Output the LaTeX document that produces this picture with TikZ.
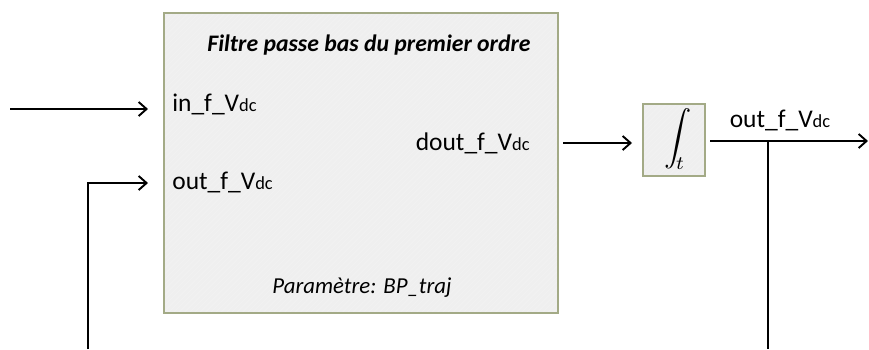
\documentclass[tikz,border=0pt]{standalone}
\usepackage{fontspec}
\setmainfont{Carlito}
\usetikzlibrary{arrows.meta,patterns,shadows}
\definecolor{boxborder}{HTML}{A3AA86}
\definecolor{boxfill}{HTML}{EFEFEF}
\newcommand{\Vdc}{V{\fontsize{10.5pt}{11pt}\selectfont dc}}
\begin{document}
\begin{tikzpicture}[x=0.02cm,y=-0.02cm,
  blockbox/.style={draw=boxborder,line width=1.4pt,
     preaction={fill=boxfill,drop shadow={shadow xshift=0.6pt,shadow yshift=-0.8pt,opacity=0.25}},
     pattern=north east lines,pattern color=black!5},
  lbl/.style={font=\fontsize{14.5pt}{16pt}\selectfont,inner sep=0pt},
  sig/.style={line width=1.1pt,-{Straight Barb[length=4.5pt,width=8pt,line width=1.1pt]}},
  wire/.style={line width=1.1pt}]
\useasboundingbox (0,0) rectangle (869,349);
% main block
\node[blockbox,minimum width=394*0.02cm,minimum height=300*0.02cm,inner sep=0pt] (filt) at (361,163) {};
\node[inner sep=0pt,font=\fontsize{13.5pt}{15pt}\selectfont\bfseries\itshape] (title) at (369,45) {Filtre passe bas du premier ordre};
\node[lbl,anchor=west] (inp) at (172,104) {in\_f\_\Vdc};
\node[lbl,anchor=west] (outp) at (172,182) {out\_f\_\Vdc};
\node[lbl,anchor=east] (doutp) at (530,143) {dout\_f\_\Vdc};
\node[inner sep=0pt,font=\fontsize{13pt}{15pt}\selectfont\itshape] (param) at (362,288) {Paramètre: BP\_traj};
% integrator
\node[blockbox,minimum width=62*0.02cm,minimum height=72*0.02cm,inner sep=0pt] (integ) at (674,140) {};
\node[inner sep=0pt] (intsym) at (675,139) {\scalebox{1.55}{$\displaystyle\int_{\!t}$}};
% coordinates
\coordinate (in0) at (10,109);
\coordinate (inE) at (148,109);
\coordinate (fb0) at (88,349);
\coordinate (fbC) at (88,183);
\coordinate (fbE) at (148,183);
\coordinate (dS) at (563,143);
\coordinate (dE) at (632,143);
\coordinate (oS) at (710,141);
\coordinate (oE) at (868,141);
\coordinate (br) at (768,141);
\coordinate (brE) at (768,349);
% connectors
\draw[sig] (in0) -- (inE);
\draw[sig] (fb0) -- (fbC) -- (fbE);
\draw[sig] (dS) -- (dE);
\draw[sig] (oS) -- (oE);
\draw[wire] (br) -- (brE);
\node[lbl] (olbl) at (780,120) {out\_f\_\Vdc};
\end{tikzpicture}
\end{document}
